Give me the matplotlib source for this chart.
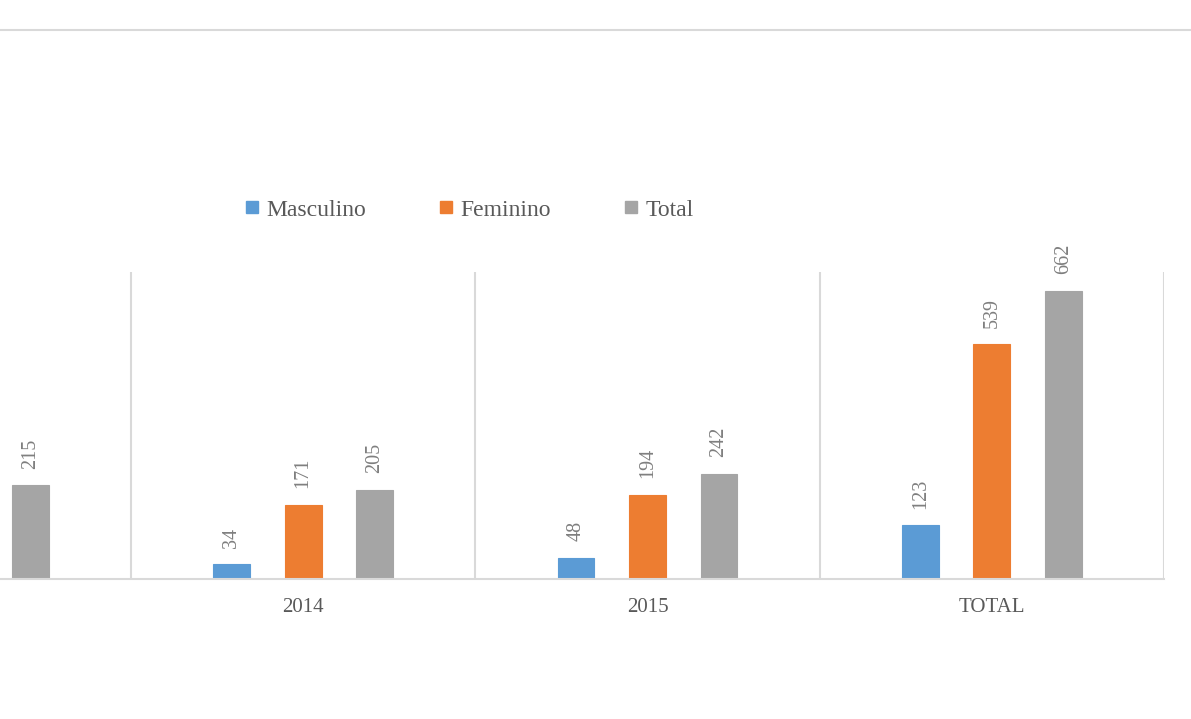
import matplotlib
matplotlib.use("Agg")
import matplotlib.pyplot as plt
import numpy as np
from matplotlib.lines import Line2D

categories = ["2013", "2014", "2015", "TOTAL"]
masculino = [41, 34, 48, 123]
feminino = [174, 171, 194, 539]
total = [215, 205, 242, 662]
series_names = ["Masculino", "Feminino", "Total"]
colors = ["#5B9BD5", "#ED7D31", "#A5A5A5"]

plt.rcParams["font.family"] = ["Liberation Serif", "DejaVu Serif"]

W, H = 1191, 719
fig = plt.figure(figsize=(W / 100, H / 100), dpi=100)

# axes: visible from x=0 to 1164 px, y from 272 to 579 px
ax = fig.add_axes([0, (H - 579) / H, 1164 / W, (579 - 272) / H])
x = np.arange(len(categories))
offset = 0.2077
width = 0.107
for i, (vals, col) in enumerate(zip([masculino, feminino, total], colors)):
    pos = x + (i - 1) * offset
    bars = ax.bar(pos, vals, width=width, color=col, edgecolor=col, linewidth=0.8, zorder=3)
    for b, v in zip(bars, vals):
        ax.annotate(str(v), (b.get_x() + b.get_width() / 2, v), xytext=(0, 12),
                    textcoords="offset points", rotation=90, ha="center", va="bottom",
                    fontsize=14.5, color="#7F7F7F")

ax.set_xticks(x)
ax.set_xticklabels(categories, fontsize=15, color="#595959")
ax.set_xticks(list(x[:-1] + 0.5) + [3.5], minor=True)
ax.tick_params(axis="x", which="both", length=0, pad=14)
ax.set_yticks([])
ax.set_xlim(0.5 - 131 / 344.3, 3.5)
ax.set_ylim(0, 705)
ax.grid(which="minor", axis="x", color="#D9D9D9", linewidth=1.5, zorder=0)
for s in ["left", "top", "right"]:
    ax.spines[s].set_visible(False)
ax.spines["bottom"].set_color("#D9D9D9")
ax.spines["bottom"].set_linewidth(1.5)
ax.spines["bottom"].set_zorder(4)

# legend
handles = [Line2D([], [], marker="s", linestyle="none", markersize=9,
                  markerfacecolor=c, markeredgecolor=c) for c in colors]
leg = fig.legend(handles, series_names, loc="center", ncol=3,
                 bbox_to_anchor=(469.5 / W, 1 - 210 / H), frameon=False,
                 fontsize=17, handlelength=0.6, handletextpad=0.3,
                 columnspacing=3.1, labelcolor="#595959")

# top frame line
fig.add_artist(Line2D([0, 1], [1 - 29.5 / H, 1 - 29.5 / H], transform=fig.transFigure,
                      color="#D9D9D9", linewidth=1.5))

fig.savefig("out.png", dpi=100)
